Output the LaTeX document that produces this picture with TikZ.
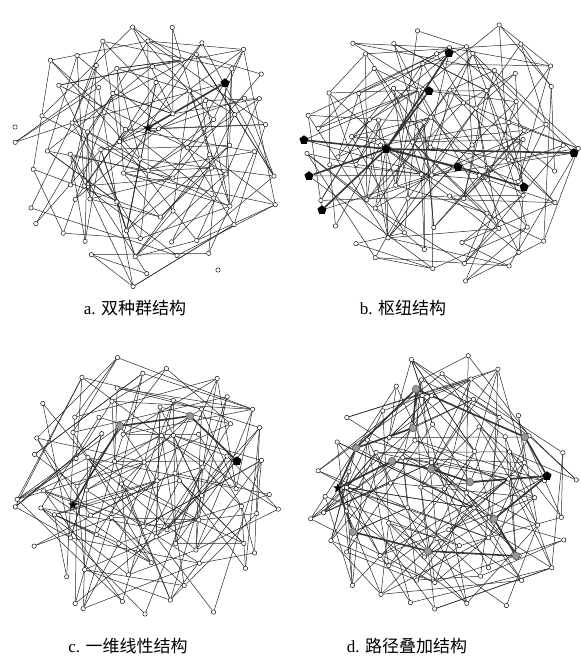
\documentclass[tikz,border=0pt]{standalone}
\usepackage{fontspec}
\setmainfont{Liberation Serif}
\newfontfamily\cjk{Noto Sans CJK SC}
\usetikzlibrary{shapes.geometric}
\pgfdeclarelayer{bg}
\pgfsetlayers{bg,main}
\tikzset{
  vtx/.style={circle,draw=black,fill=white,inner sep=0pt,minimum size=4.4pt,line width=0.45pt},
  gvtx/.style={circle,draw=black!70,fill=black!40,inner sep=0pt,minimum size=7.5pt,line width=0.5pt},
  pentnode/.style={regular polygon,regular polygon sides=5,fill=black,inner sep=0pt,minimum size=9.5pt},
  starnode/.style={star,star points=5,star point ratio=2.3,fill=black,inner sep=0pt,minimum size=10pt},
  edge/.style={draw=black!85,line width=0.5pt},
  hedge/.style={draw=black!80,line width=1.6pt},
  captext/.style={font=\fontsize{17}{20}\selectfont}
}
\newcount\ncnt
\newcount\ecnt
% link a node (#1, at #2,#3) to #5 random nodes of graph #4 at moderate distance
\newcommand\linkup[5]{%
  \global\ecnt=0
  \edef\myx{#2}\edef\myy{#3}%
  \foreach \t in {1,...,30}{%
    \ifnum\ecnt<#5
      \pgfmathtruncatemacro\j{random(1,\csname #4N\endcsname)}%
      \pgfmathsetmacro\dd{veclen((\csname #4x\j\endcsname)-(\myx),(\csname #4y\j\endcsname)-(\myy))}%
      \pgfmathtruncatemacro\ok{and(\dd>45,\dd<160)}%
      \ifnum\ok=1 \path[edge] (#1) -- (#4\j); \global\advance\ecnt by 1 \fi
    \fi
  }%
}
% #1 prefix, #2 cx, #3 cy, #4 seed
\newcommand\makegraph[4]{%
  \pgfmathsetseed{#4}%
  \global\ncnt=0
  \foreach \gx in {-5,...,5}{\foreach \gy in {-5,...,5}{%
    \pgfmathsetmacro\px{\gx*28+24*(rnd-0.5)}%
    \pgfmathsetmacro\py{\gy*28+24*(rnd-0.5)}%
    \pgfmathtruncatemacro\inside{veclen(\px,\py)<138}%
    \ifnum\inside=1
      \global\advance\ncnt by 1
      \pgfmathsetmacro\ax{\px+#2}\pgfmathsetmacro\ay{\py+#3}%
      \expandafter\xdef\csname #1x\the\ncnt\endcsname{\ax}%
      \expandafter\xdef\csname #1y\the\ncnt\endcsname{\ay}%
      \node[vtx] (#1\the\ncnt) at (\ax,\ay) {};
    \fi
  }}%
  \expandafter\xdef\csname #1N\endcsname{\the\ncnt}%
  \edef\NN{\the\ncnt}%
  \begin{pgfonlayer}{bg}
  \foreach \i in {1,...,\NN}{%
    \linkup{#1\i}{\csname #1x\i\endcsname}{\csname #1y\i\endcsname}{#1}{2}%
  }%
  \end{pgfonlayer}
}
% special nodes: #1 list of name/style/x/y, #2 prefix
\newcommand\specnodes[2]{%
  \foreach \nm/\st/\sx/\sy in {#1}{\node[\st] (\nm) at (\sx,\sy) {};}
  \begin{pgfonlayer}{bg}
  \foreach \nm/\st/\sx/\sy in {#1}{\linkup{\nm}{\sx}{\sy}{#2}{2}}
  \end{pgfonlayer}
}
\begin{document}
\begin{tikzpicture}[x=1pt,y=-1pt]
\useasboundingbox (0,0) rectangle (581,657);

% ---------- panel a ----------
\makegraph{a}{152}{150}{11}
\node[vtx] (aiso1) at (15,127) {};
\node[vtx] (aiso2) at (218,270) {};
\specnodes{astar/starnode/148/128,apent/pentnode/225/83}{a}
\begin{pgfonlayer}{bg}\path[hedge] (astar) -- (apent);\end{pgfonlayer}

% ---------- panel b ----------
\makegraph{b}{442}{148}{23}
\specnodes{bhub/pentnode/386/149,bp1/pentnode/449/53,bp2/pentnode/429/91,
  bp3/pentnode/304/140,bp4/pentnode/574/153,bp5/pentnode/309/176,
  bp6/pentnode/458/167,bp7/pentnode/524/187,bp8/pentnode/322/210}{b}
\begin{pgfonlayer}{bg}
\foreach \n in {bp1,bp2,bp3,bp4,bp5,bp6,bp8}{\path[hedge] (bhub) -- (\n);}
\path[hedge] (bp6) -- (bp7);
\end{pgfonlayer}

% ---------- panel c ----------
\makegraph{c}{150}{490}{37}
\specnodes{cstar/starnode/73/505,cg1/gvtx/120/426,cg2/gvtx/190/416,cpent/pentnode/237/461}{c}
\begin{pgfonlayer}{bg}
\path[hedge] (cstar) -- (cg1) -- (cg2) -- (cpent);
\end{pgfonlayer}

% ---------- panel d ----------
\makegraph{d}{442}{490}{53}
\specnodes{dstar/starnode/338/488,dpent/pentnode/547/476,
  dg1/gvtx/416/389,dg2/gvtx/413/428,dg3/gvtx/356/448,dg4/gvtx/392/461,
  dg5/gvtx/431/469,dg6/gvtx/470/482,dg7/gvtx/525/437,dg8/gvtx/494/519,
  dg9/gvtx/353/532,dg10/gvtx/428/551,dg11/gvtx/516/556}{d}
\begin{pgfonlayer}{bg}
\path[hedge] (dstar) -- (dg3) -- (dg1) -- (dg7) -- (dpent);
\path[hedge] (dg3) -- (dg2) -- (dg1);
\path[hedge] (dstar) -- (dg4) -- (dg5) -- (dg6) -- (dpent);
\path[hedge] (dstar) -- (dg9) -- (dg10) -- (dg11) -- (dg8) -- (dpent);
\end{pgfonlayer}

% ---------- captions ----------
\node[captext] (capa) at (135,308) {a. {\cjk 双种群结构}};
\node[captext] (capb) at (403,308) {b. {\cjk 枢纽结构}};
\node[captext] (capc) at (128,646) {c. {\cjk 一维线性结构}};
\node[captext] (capd) at (407,646) {d. {\cjk 路径叠加结构}};
\end{tikzpicture}
\end{document}
